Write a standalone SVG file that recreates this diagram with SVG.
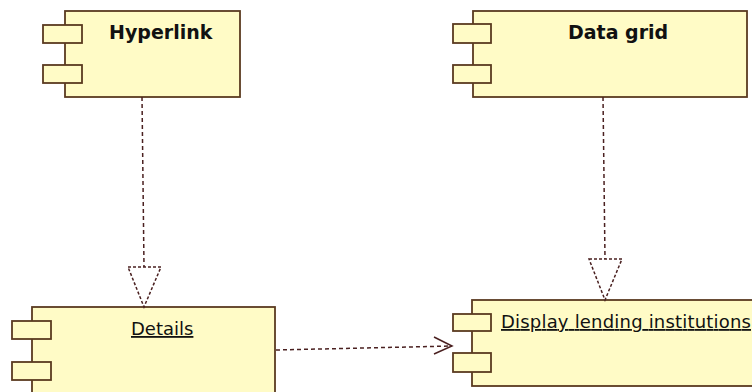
<svg xmlns="http://www.w3.org/2000/svg" width="752" height="392" viewBox="0 0 752 392">
<style>
.box{fill:#fffbc6;stroke:#5a3a20;stroke-width:1.8}
.port{fill:#fffbc6;stroke:#5a3a20;stroke-width:1.8}
.dash{fill:none;stroke:#4a2020;stroke-width:1.5;stroke-dasharray:4 3}
.head{fill:#ffffff;stroke:#4a2020;stroke-width:1.5;stroke-dasharray:3 2}
.open{fill:none;stroke:#4a2020;stroke-width:1.5}
.tb{font-family:"DejaVu Sans",sans-serif;font-weight:bold;font-size:19px;fill:#111}
.tu{font-family:"DejaVu Sans",sans-serif;font-size:18px;fill:#111;text-decoration:underline}
</style>
<rect width="752" height="392" fill="#ffffff"/>
<g id="hyperlink">
<rect class="box" x="65" y="11" width="175" height="86"/>
<rect class="port" x="43" y="25" width="39" height="18"/>
<rect class="port" x="43" y="65" width="39" height="18"/>
<text class="tb" x="109" y="39">Hyperlink</text>
</g>
<g id="datagrid">
<rect class="box" x="473" y="11" width="274" height="86"/>
<rect class="port" x="453" y="24" width="38" height="19"/>
<rect class="port" x="453" y="65" width="38" height="18"/>
<text class="tb" x="568" y="39">Data grid</text>
</g>
<g id="details">
<rect class="box" x="32" y="307" width="243" height="100"/>
<rect class="port" x="12" y="321" width="39" height="18"/>
<rect class="port" x="12" y="362" width="39" height="18"/>
<text class="tu" x="131" y="335">Details</text>
</g>
<g id="display">
<rect class="box" x="472" y="300" width="300" height="86"/>
<rect class="port" x="453" y="314" width="38" height="17"/>
<rect class="port" x="453" y="353" width="38" height="19"/>
<text class="tu" x="501" y="328" textLength="250" lengthAdjust="spacing">Display lending institutions</text>
</g>
<g id="connectors">
<path class="dash" d="M142 97 L144 267"/>
<path class="head" d="M128 267 L161 267 L144 307 Z"/>
<path class="dash" d="M603 97 L605 259"/>
<path class="head" d="M589 259 L622 259 L605 300 Z"/>
<path class="dash" d="M276 350 L452 346"/>
<path class="open" d="M434 337 L452 346 L434 354"/>
</g>
</svg>
